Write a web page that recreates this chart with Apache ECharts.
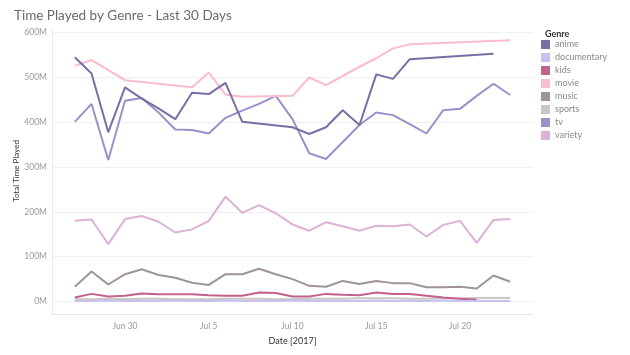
<!DOCTYPE html>
<html><head><meta charset="utf-8">
<script src="https://cdn.jsdelivr.net/npm/echarts@6/dist/echarts.min.js"></script>
<style>html,body{margin:0;padding:0;background:#fff}#c{width:630px;height:355px}</style>
</head><body><div id="c"></div>
<script>
const dates = ['2017-06-27','2017-06-28','2017-06-29','2017-06-30','2017-07-01','2017-07-02','2017-07-03','2017-07-04','2017-07-05','2017-07-06','2017-07-07','2017-07-08','2017-07-09','2017-07-10','2017-07-11','2017-07-12','2017-07-13','2017-07-14','2017-07-15','2017-07-16','2017-07-17','2017-07-18','2017-07-19','2017-07-20','2017-07-21','2017-07-22','2017-07-23'];
const genres = ['anime','documentary','kids','movie','music','sports','tv','variety'];
// values in millions
const anime       = [545,509,378,478,453,431,407,466,463,488,401,null,null,389,374,389,427,394,507,497,541,null,null,null,null,553,null];
const documentary = [1,1,2,1,1,1,2,1,1,2,1,1,1,2,1,1,1,1,2,1,1,1,2,1,1,1,1];
const kids        = [9,17,11,13,18,16,16,16,14,13,13,20,19,11,11,17,15,14,20,17,17,13,9,6,4,null,null];
const movie       = [526,539,null,494,null,null,null,478,511,462,457,null,null,459,500,483,null,524,543,565,574,null,null,null,null,null,583];
const music       = [33,67,38,61,72,59,53,42,37,61,61,73,61,50,35,33,46,39,46,41,41,32,32,33,29,58,44];
const sports      = [5,5,6,5,6,6,5,5,5,6,6,6,5,5,6,6,6,7,7,7,6,6,7,7,8,8,8];
const tv          = [401,441,316,448,454,422,384,383,375,410,426,441,459,407,331,318,356,394,422,416,396,375,427,430,459,486,461];
const variety     = [180,183,128,184,191,178,154,161,180,234,198,215,197,172,158,177,168,158,169,168,172,145,171,180,131,182,184];
const xTickDates  = ['2017-06-30','2017-07-05','2017-07-10','2017-07-15','2017-07-20'];
const xTickLabels = ['Jun 30','Jul 5','Jul 10','Jul 15','Jul 20'];
const yTickValues = [0,100,200,300,400,500,600];

const colors = {anime:'#7a6ea6',documentary:'#c6c1ef',kids:'#c2618d',movie:'#f9bcd1',music:'#a09494',sports:'#cbc6c6',tv:'#9b90c9',variety:'#dcb2d7'};
const valuesByGenre = {anime,documentary,kids,movie,music,sports,tv,variety};
const base = Date.parse('2017-06-30');
const dayOff = d => (Date.parse(d) - base) / 86400000;
const xTickOffs = xTickDates.map(dayOff);

const drawOrder = ['variety','music','sports','kids','documentary','tv','movie','anime'];
const series = drawOrder.map(g => ({
  name: g, type: 'line', symbol: 'none', showSymbol: false,
  color: colors[g],
  lineStyle: {width: 2, color: colors[g]},
  itemStyle: {color: colors[g]},
  emphasis: {disabled: true},
  data: dates.map((d, i) => [dayOff(d), valuesByGenre[g][i]]).filter(p => p[1] !== null)
}));

const chart = echarts.init(document.getElementById('c'), null, {renderer: 'canvas'});
chart.setOption({
  animation: false,
  textStyle: {fontFamily: 'Lato'},
  title: [
    {text: 'Time Played by Genre - Last 30 Days', left: 9, top: 4,
     textStyle: {fontSize: 13.5, fontWeight: 'normal', color: '#6a6a6a', fontFamily: 'Lato'}},
    {text: 'Genre', left: 540, top: 25,
     textStyle: {fontSize: 9, fontWeight: 'bold', color: '#333', fontFamily: 'Lato'}}
  ],
  legend: {
    data: genres, orient: 'vertical', left: 541, top: 40, padding: 0,
    itemWidth: 9, itemHeight: 9, itemGap: 4, icon: 'rect', selectedMode: false,
    textStyle: {fontSize: 9, color: '#8a8a8a', lineHeight: 9, fontFamily: 'Lato'}
  },
  grid: {left: 52, right: 97, top: 28, bottom: 41, containLabel: false, outerBoundsMode: 'none'},
  xAxis: {
    type: 'value', min: -4.36, max: 24.36,
    name: 'Date [2017]', nameLocation: 'middle', nameGap: 23, nameMoveOverlap: false,
    nameTextStyle: {fontSize: 9, color: '#333', fontFamily: 'Lato'},
    axisLine: {show: true, onZero: false, lineStyle: {color: '#e6e6e6'}},
    axisTick: {show: false, customValues: xTickOffs},
    splitLine: {show: false},
    axisLabel: {customValues: xTickOffs, fontSize: 8.5, color: '#9a9a9a', margin: 8,
      formatter: v => { const i = xTickOffs.findIndex(o => Math.abs(o - v) < 1e-6); return i >= 0 ? xTickLabels[i] : ''; }}
  },
  yAxis: {
    type: 'value', min: -27.9, max: 610.5,
    name: 'Total Time Played', nameLocation: 'middle', nameGap: 32, nameRotate: 90, nameMoveOverlap: false,
    nameTextStyle: {fontSize: 8, color: '#333', fontFamily: 'Lato'},
    axisLine: {show: true, onZero: false, lineStyle: {color: '#ececec'}},
    axisTick: {show: false, customValues: yTickValues},
    splitLine: {show: true, lineStyle: {color: '#f0f0f0'}},
    axisLabel: {customValues: yTickValues, fontSize: 8.5, color: '#9a9a9a', margin: 5,
      formatter: v => v + 'M'}
  },
  series: series
});
</script></body></html>
